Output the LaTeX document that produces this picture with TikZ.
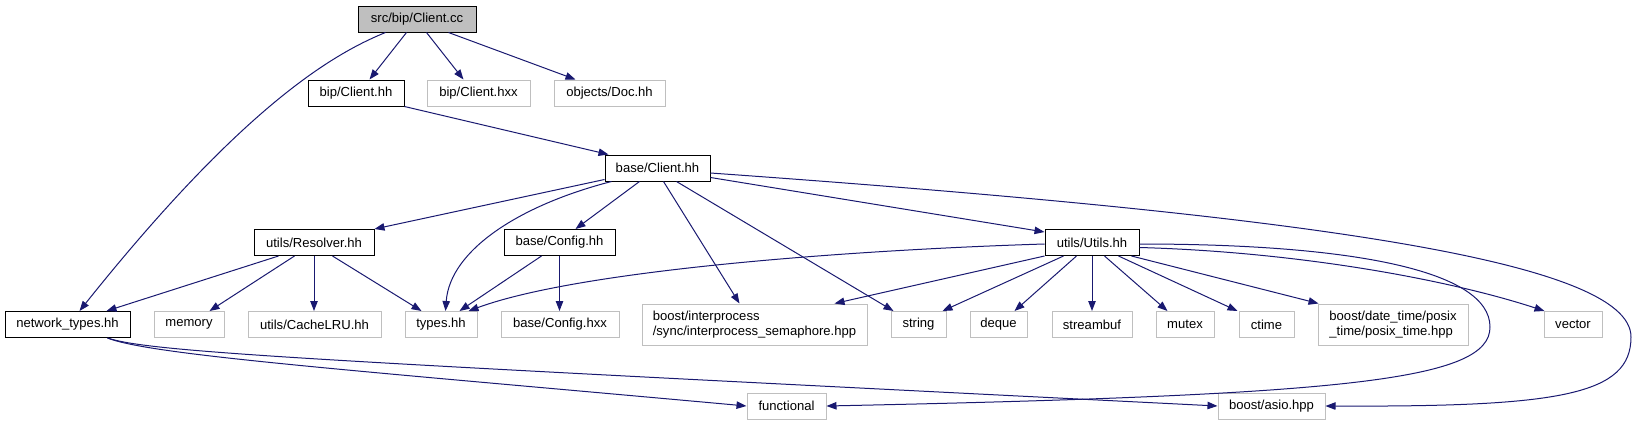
\documentclass[tikz,border=0pt]{standalone}
\usepackage{fontspec}
\setmainfont{Liberation Sans}
\usetikzlibrary{calc,arrows.meta}
\definecolor{edgeblue}{HTML}{191970}
\definecolor{extgray}{HTML}{BFBFBF}
\begin{document}
\begin{tikzpicture}[x=0.75pt,y=-0.75pt,
  box/.style={line width=0.75pt, inner sep=0pt, minimum height=19.5pt,
    font=\fontsize{9.8pt}{10.75pt}\selectfont, text=black, align=left},
  docbox/.style={box, draw=black},
  extbox/.style={box, draw=extgray},
  edge/.style={draw=edgeblue, line width=0.75pt,
    -{Triangle[length=7.5pt,width=5.6pt]}}]
\useasboundingbox (0,0) rectangle (1636,425);

% row 0
\node[docbox, fill=extgray, minimum width=88.5pt] (cc) at (417,19) {src/bip/Client.cc};
% row 1
\node[docbox, minimum width=72pt] (bch) at (356,93) {bip/Client.hh};
\node[extbox, minimum width=77.25pt] (bcx) at (478.5,93) {bip/Client.hxx};
\node[extbox, minimum width=83.25pt] (doc) at (609.5,93) {objects/Doc.hh};
% row 2
\node[docbox, minimum width=78.75pt] (basec) at (657.5,168) {base/Client.hh};
% row 3
\node[docbox, minimum width=90pt] (res) at (314,242.5) {utils/Resolver.hh};
\node[docbox, minimum width=83.25pt] (cfg) at (559.5,242.5) {base/Config.hh};
\node[docbox, minimum width=70.5pt] (utl) at (1092,242.5) {utils/Utils.hh};
% row 4
\node[docbox, minimum width=93.75pt] (net) at (67.5,324.5) {network\_types.hh};
\node[extbox, minimum width=52.5pt] (mem) at (189,324.5) {memory};
\node[extbox, minimum width=99.75pt] (lru) at (314.5,324.5) {utils/CacheLRU.hh};
\node[extbox, minimum width=54pt] (typ) at (441,324.5) {types.hh};
\node[extbox, minimum width=88.5pt] (cfx) at (560,324.5) {base/Config.hxx};
\node[extbox, minimum width=168.75pt, minimum height=30.75pt] (ipc) at (754.5,324.5) {boost/interprocess\\/sync/interprocess\_semaphore.hpp};
\node[extbox, minimum width=41.25pt] (str) at (918.5,324.5) {string};
\node[extbox, minimum width=42.75pt] (deq) at (998.5,324.5) {deque};
\node[extbox, minimum width=60pt] (sbf) at (1092,324.5) {streambuf};
\node[extbox, minimum width=43.5pt] (mtx) at (1185,324.5) {mutex};
\node[extbox, minimum width=41.25pt] (ctm) at (1266.5,324.5) {ctime};
\node[extbox, minimum width=112.5pt, minimum height=30.75pt] (dt) at (1393,324.5) {boost/date\_time/posix\\\_time/posix\_time.hpp};
\node[extbox, minimum width=43.5pt] (vec) at (1573,324.5) {vector};
% row 5
\node[extbox, minimum width=59.25pt] (fun) at (786.5,406) {functional};
\node[extbox, minimum width=80.25pt] (asio) at (1271.5,406) {boost/asio.hpp};

\coordinate (turnA) at (1631,337);
\coordinate (turnB) at (1490,327);

% edges from src/bip/Client.cc
\draw[edge] ($(cc.south west)+(28,0)$) .. controls (330,55) and (240,110) .. ($(net.north west)+(75,0)$);
\draw[edge] ($(cc.south west)+(49,0)$) -- ($(bch.north west)+(62,0)$);
\draw[edge] ($(cc.south west)+(69,0)$) -- ($(bcx.north west)+(37,0)$);
\draw[edge] ($(cc.south west)+(91,0)$) -- ($(doc.north west)+(22,0)$);
% bip/Client.hh
\draw[edge] (bch.south east) -- ($(basec.north west)+(4,0)$);
% base/Client.hh
\draw[edge] ($(basec.south west)+(0,-2)$) -- (res.north east);
\draw[edge] ($(basec.south west)+(7,0)$) .. controls (520,205) and (450,250) .. ($(typ.north west)+(41,0)$);
\draw[edge] ($(basec.south west)+(35,0)$) -- ($(cfg.north west)+(72,0)$);
\draw[edge] ($(basec.south west)+(59,0)$) -- ($(ipc.north west)+(98,0)$);
\draw[edge] ($(basec.south west)+(72,0)$) -- ($(str.north west)+(3,0)$);
\draw[edge] ($(basec.south east)+(0,-4)$) -- ($(utl.north west)+(0,3)$);
\draw[edge] ($(basec.east)+(0,5)$) .. controls (1300,215) and (1631,260) .. (turnA)
  .. controls (1631,395) and (1560,407) .. (asio.east);
% utils/Resolver.hh
\draw[edge] ($(res.south west)+(25,0)$) -- ($(net.north west)+(102,0)$);
\draw[edge] ($(res.south west)+(41,0)$) -- ($(mem.north west)+(56,0)$);
\draw[edge] (res.south) -- (res.south |- lru.north);
\draw[edge] ($(res.south west)+(79,0)$) -- ($(typ.north west)+(17,0)$);
% base/Config.hh
\draw[edge] ($(cfg.south west)+(38,0)$) -- ($(typ.north west)+(55,0)$);
\draw[edge] (cfg.south) -- (cfg.south |- cfx.north);
% utils/Utils.hh
\draw[edge] ($(utl.west)+(0,1.5)$) .. controls (850,250) and (580,270) .. ($(typ.north west)+(64,0)$);
\draw[edge] (utl.south west) -- ($(ipc.north east)+(-33,0)$);
\draw[edge] ($(utl.south west)+(19,0)$) -- ($(str.north east)+(-4,0)$);
\draw[edge] ($(utl.south west)+(32,0)$) -- ($(deq.north west)+(45,0)$);
\draw[edge] (utl.south) -- (utl.south |- sbf.north);
\draw[edge] ($(utl.south west)+(60,0)$) -- ($(mtx.north west)+(12,0)$);
\draw[edge] ($(utl.south west)+(74,0)$) -- ($(ctm.north west)+(-1,0)$);
\draw[edge] ($(utl.south west)+(87,0)$) -- ($(dt.north west)+(1,0)$);
\draw[edge] ($(utl.east)+(0,5)$) .. controls (1300,252) and (1450,280) .. ($(vec.north west)+(1,0)$);
\draw[edge] ($(utl.east)+(0,1.5)$) .. controls (1350,244) and (1490,270) .. (turnB)
  .. controls (1490,380) and (1350,395) .. (fun.east);
% network_types.hh
\draw[edge] ($(net.south east)+(-23,0)$) .. controls (150,355) and (350,370) .. (fun.west);
\draw[edge] ($(net.south east)+(-23,0)$) .. controls (150,352) and (300,360) .. (asio.west);
\end{tikzpicture}
\end{document}
